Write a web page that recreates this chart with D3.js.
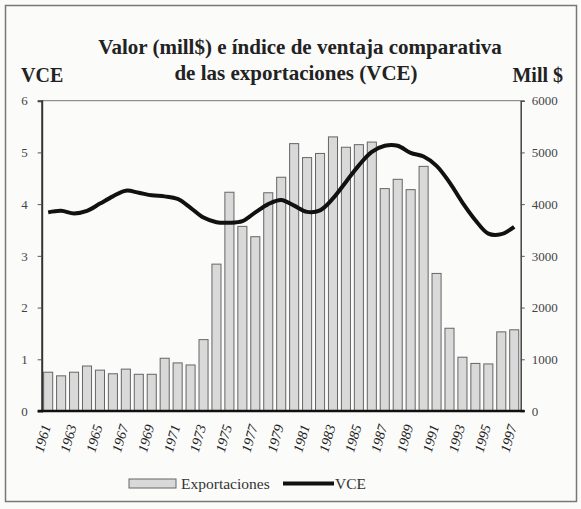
<!DOCTYPE html>
<html>
<head>
<meta charset="utf-8">
<script src="https://cdn.jsdelivr.net/npm/d3@7"></script>
<style>
  body { margin: 0; background: #fff; }
  svg { display: block; }
</style>
</head>
<body>
<div id="chart"></div>
<script>
const years = [1961, 1962, 1963, 1964, 1965, 1966, 1967, 1968, 1969, 1970,
    1971, 1972, 1973, 1974, 1975, 1976, 1977, 1978, 1979, 1980,
    1981, 1982, 1983, 1984, 1985, 1986, 1987, 1988, 1989, 1990,
    1991, 1992, 1993, 1994, 1995, 1996, 1997];
const exportaciones = [750, 680, 750, 870, 790, 720, 810, 710, 710, 1020,
    930, 890, 1380, 2840, 4230, 3570, 3370, 4220, 4520, 5170,
    4900, 4980, 5300, 5100, 5150, 5200, 4300, 4480, 4280, 4730,
    2660, 1600, 1040, 920, 910, 1530, 1570];
const vce = [3.84, 3.87, 3.82, 3.87, 4.01, 4.15, 4.26, 4.22, 4.17, 4.15,
    4.10, 3.93, 3.74, 3.65, 3.64, 3.67, 3.84, 4.00, 4.08, 3.97,
    3.85, 3.88, 4.11, 4.43, 4.75, 5.01, 5.13, 5.13, 4.99, 4.92,
    4.74, 4.42, 4.03, 3.69, 3.43, 3.42, 3.56];
const leftTicks = [0, 1, 2, 3, 4, 5, 6];
const rightTicks = [0, 1000, 2000, 3000, 4000, 5000, 6000];
const yearLabels = years.filter(y => y % 2 === 1);

const W = 581, H = 509;
const x0 = 41.7, x1 = 520.7, yTop = 100.7, yBot = 411;
const font = '"Liberation Serif", "Times New Roman", serif';

const svg = d3.select('#chart').append('svg')
    .attr('width', W)
    .attr('height', H)
    .style('font-family', font);

svg.append('rect')
    .attr('x', 0).attr('y', 0).attr('width', W).attr('height', H)
    .attr('fill', '#fbfbfa');
svg.append('rect')
    .attr('x', 5.5).attr('y', 5.5).attr('width', 571).attr('height', 496)
    .attr('fill', 'none')
    .attr('stroke', '#777')
    .attr('stroke-width', 1.5);

const x = d3.scaleBand().domain(years).range([x0, x1]).paddingInner(0.3).paddingOuter(0.15);
const yL = d3.scaleLinear().domain([0, 6]).range([yBot, yTop]);
const yR = d3.scaleLinear().domain([0, 6000]).range([yBot, yTop]);

// plot frame top
svg.append('line')
    .attr('x1', x0).attr('x2', x1).attr('y1', yTop).attr('y2', yTop)
    .attr('stroke', '#777').attr('stroke-width', 1);

// bars
svg.append('g').selectAll('rect')
    .data(years)
    .join('rect')
    .attr('x', (d) => x(d))
    .attr('y', (d, i) => yR(exportaciones[i]))
    .attr('width', x.bandwidth())
    .attr('height', (d, i) => yBot - yR(exportaciones[i]))
    .attr('fill', '#d9d9d9')
    .attr('stroke', '#666')
    .attr('stroke-width', 1);

// VCE line
const line = d3.line()
    .x((d, i) => x(years[i]) + x.bandwidth() / 2)
    .y(d => yL(d))
    .curve(d3.curveCatmullRom);
svg.append('path')
    .datum(vce)
    .attr('d', line)
    .attr('fill', 'none')
    .attr('stroke', '#111')
    .attr('stroke-width', 4)
    .attr('stroke-linejoin', 'round');

// axes
const leftAxis = svg.append('g')
    .attr('transform', `translate(${x0},0)`)
    .call(d3.axisLeft(yL).tickValues(leftTicks).tickFormat(d3.format('d')).tickSize(4).tickPadding(10));
const rightAxis = svg.append('g')
    .attr('transform', `translate(${x1},0)`)
    .call(d3.axisRight(yR).tickValues(rightTicks).tickFormat(d3.format('d')).tickSize(4).tickPadding(7));
[leftAxis, rightAxis].forEach(g => {
    g.select('.domain').attr('stroke', '#444').attr('stroke-width', 1.5);
    g.selectAll('.tick line').attr('stroke', '#555');
    g.selectAll('text')
        .style('font-family', font)
        .style('font-size', '13px')
        .attr('fill', '#444');
});
leftAxis.select('.domain').attr('stroke', '#333').attr('stroke-width', 2);

// bottom axis
svg.append('line')
    .attr('x1', x0 - 4).attr('x2', x1 + 4).attr('y1', yBot).attr('y2', yBot)
    .attr('stroke', '#111').attr('stroke-width', 2.5);

// year labels
svg.append('g').selectAll('text')
    .data(yearLabels)
    .join('text')
    .attr('transform', d => `translate(${x(d) + x.bandwidth() / 2 - 2},${yBot + 14}) rotate(-74)`)
    .attr('text-anchor', 'end')
    .attr('dy', '0.35em')
    .attr('fill', '#222')
    .style('font-size', '14px')
    .style('font-style', 'italic')
    .text(d => d);

// titles
svg.append('text')
    .attr('x', 300).attr('y', 54)
    .attr('text-anchor', 'middle')
    .attr('font-weight', 'bold')
    .attr('fill', '#222')
    .style('font-size', '21px')
    .text('Valor (mill$) e índice de ventaja comparativa');
svg.append('text')
    .attr('x', 296).attr('y', 80)
    .attr('text-anchor', 'middle')
    .attr('font-weight', 'bold')
    .attr('fill', '#222')
    .style('font-size', '21px')
    .text('de las exportaciones (VCE)');
svg.append('text')
    .attr('x', 21).attr('y', 82)
    .attr('font-weight', 'bold')
    .attr('fill', '#222')
    .style('font-size', '20px')
    .text('VCE');
svg.append('text')
    .attr('x', 563).attr('y', 82)
    .attr('text-anchor', 'end')
    .attr('font-weight', 'bold')
    .attr('fill', '#222')
    .style('font-size', '20px')
    .text('Mill $');

// legend
const lg = svg.append('g');
lg.append('rect')
    .attr('x', 129).attr('y', 479).attr('width', 47).attr('height', 9)
    .attr('fill', '#d9d9d9').attr('stroke', '#666');
lg.append('text')
    .attr('x', 181).attr('y', 489)
    .attr('fill', '#333')
    .style('font-size', '15.5px')
    .text('Exportaciones');
lg.append('line')
    .attr('x1', 283).attr('x2', 334).attr('y1', 483.5).attr('y2', 483.5)
    .attr('stroke', '#111').attr('stroke-width', 4);
lg.append('text')
    .attr('x', 335).attr('y', 489)
    .attr('fill', '#333')
    .style('font-size', '15.5px')
    .text('VCE');
</script>
</body>
</html>
